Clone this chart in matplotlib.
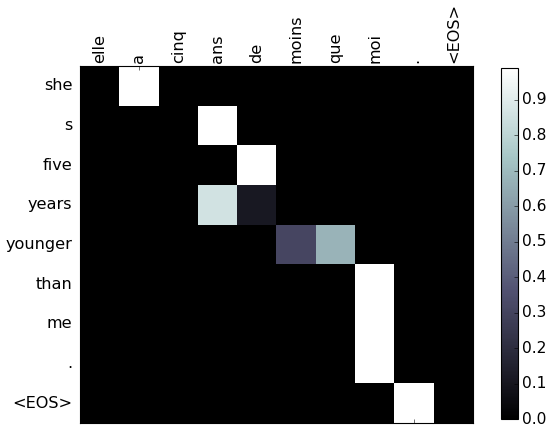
import matplotlib
matplotlib.use('Agg')
import matplotlib.pyplot as plt
import numpy as np

plt.style.use('classic')

input_words = ['elle', 'a', 'cinq', 'ans', 'de', 'moins', 'que', 'moi', '.', '<EOS>']
output_words = ['she', 's', 'five', 'years', 'younger', 'than', 'me', '.', '<EOS>']

# attention weights, one row per output word
attentions = np.array([
    [0.0, 0.99, 0.0, 0.0, 0.0, 0.0, 0.0, 0.0, 0.0, 0.0],
    [0.0, 0.0, 0.0, 0.99, 0.0, 0.0, 0.0, 0.0, 0.0, 0.0],
    [0.0, 0.0, 0.0, 0.0, 0.99, 0.0, 0.0, 0.0, 0.0, 0.0],
    [0.0, 0.0, 0.0, 0.86, 0.11, 0.0, 0.0, 0.0, 0.0, 0.0],
    [0.0, 0.0, 0.0, 0.0, 0.0, 0.31, 0.68, 0.0, 0.0, 0.0],
    [0.0, 0.0, 0.0, 0.0, 0.0, 0.0, 0.0, 0.99, 0.0, 0.0],
    [0.0, 0.0, 0.0, 0.0, 0.0, 0.0, 0.0, 0.99, 0.0, 0.0],
    [0.0, 0.0, 0.0, 0.0, 0.0, 0.0, 0.0, 0.99, 0.0, 0.0],
    [0.0, 0.0, 0.0, 0.0, 0.0, 0.0, 0.0, 0.0, 0.99, 0.0],
])

W, H = 552, 427
fig = plt.figure(figsize=(W / 80, H / 80), dpi=80)
fig.patch.set_facecolor('white')
ax = fig.add_axes([80 / W, 1 - 423 / H, 393 / W, 357 / H])
cax = fig.add_axes([501 / W, 1 - 419 / H, 17 / W, 351 / H])

im = ax.matshow(attentions, cmap='bone', aspect='auto', interpolation='nearest')
cb = fig.colorbar(im, cax=cax)
cb.set_ticks(np.arange(0, 1.0, 0.1))
cb.ax.tick_params(labelsize=14, pad=4)

ax.set_xticks(range(len(input_words)))
ax.set_xticklabels(input_words, rotation=90, fontsize=14.5)
ax.set_yticks(range(len(output_words)))
ax.set_yticklabels(output_words, fontsize=14.5)
ax.tick_params(axis='x', pad=3)
ax.tick_params(axis='y', pad=7)

plt.savefig('out.png', dpi=80, facecolor='white')
